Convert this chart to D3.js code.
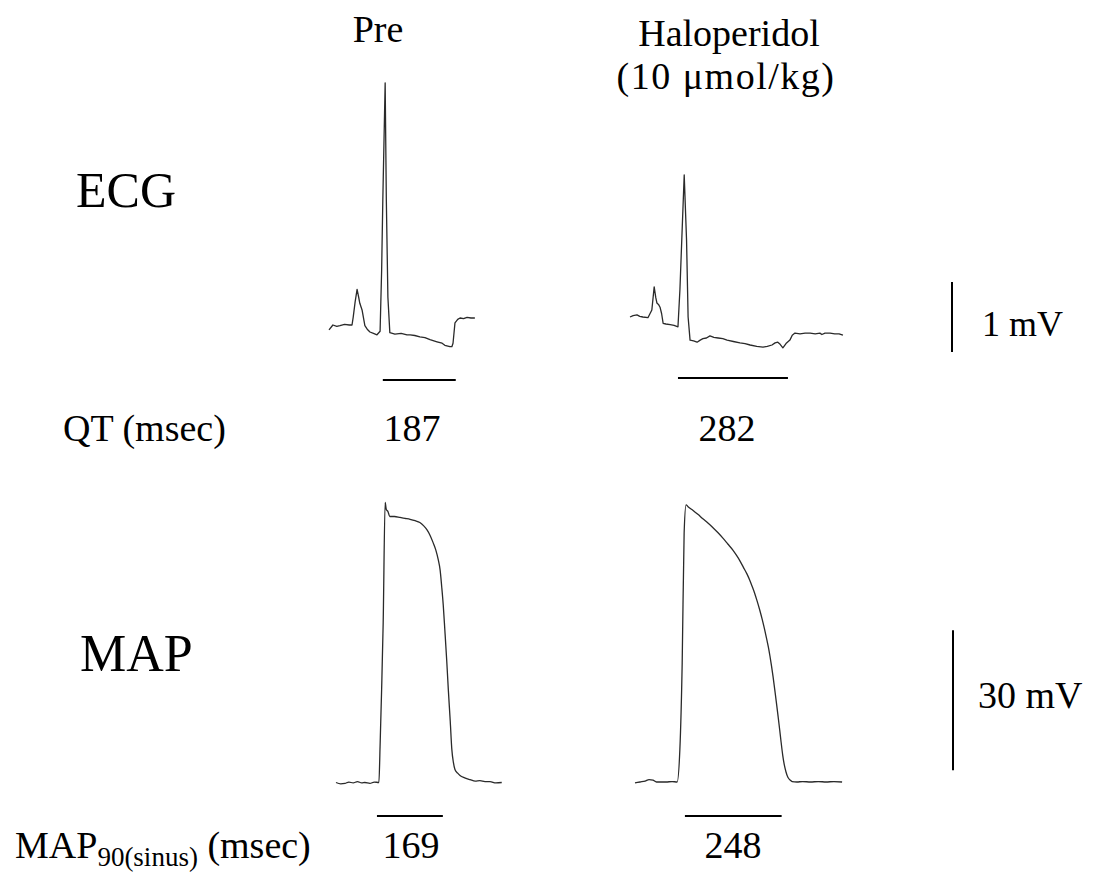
<!DOCTYPE html>
<html>
<head>
<meta charset="utf-8">
<script src="https://cdn.jsdelivr.net/npm/d3@7"></script>
<style>
  html, body { margin: 0; padding: 0; background: #fff; }
  svg { display: block; }
  text { font-family: "Liberation Serif", "Times New Roman", serif; fill: #000; }
</style>
</head>
<body>
<svg id="chart" width="1095" height="881"></svg>
<script>
// ---------------- DATA ----------------
// time in ms from start of trace, amplitude in mV
const ecgPreT = [0,10,20,28,40,52,59,62,67,72,76,79,85,92,98,105,114,123,131,135,138,144,147,151,156,169,185,200,208,220,233,246,259,277,290,297,310,315,318,323,330,336,345,354,364,374];
const ecgPreV = [-0.07,0,-0.02,-0.01,0.01,0,0,0.11,0.33,0.51,0.40,0.31,0.21,-0.01,-0.06,-0.10,-0.12,-0.14,-0.09,0.79,1.79,3.46,1.79,0.40,-0.11,-0.13,-0.12,-0.14,-0.14,-0.15,-0.17,-0.18,-0.21,-0.24,-0.26,-0.29,-0.31,-0.31,-0.26,0.03,0.08,0.10,0.09,0.11,0.10,0.10];

const ecgHaloT = [0,8,18,25,33,46,56,62,66,69,73,77,81,85,92,103,113,123,128,133,139,145,149,154,163,172,180,187,196,205,215,226,238,249,265,282,295,308,325,341,352,364,372,379,385,392,400,410,416,423,436,449,462,475,487,492,500,513,525,536,546];
const ecgHaloV = [0,0.02,0.03,0.01,0,-0.01,0.10,0.43,0.28,0.20,0.18,0.14,0.05,-0.09,-0.10,-0.11,-0.12,-0.14,0.39,1.14,2.03,1.10,0,-0.33,-0.34,-0.36,-0.33,-0.31,-0.30,-0.27,-0.29,-0.30,-0.31,-0.33,-0.35,-0.37,-0.38,-0.40,-0.42,-0.43,-0.42,-0.40,-0.37,-0.36,-0.39,-0.44,-0.38,-0.33,-0.26,-0.23,-0.24,-0.23,-0.23,-0.24,-0.23,-0.25,-0.23,-0.23,-0.24,-0.24,-0.26];

const mapPreT = [0,12,23,33,44,55,66,74,87,98,110,113,117,121,126,129,133,138,150,164,177,190,203,215,225,233,241,249,256,262,267,271,275,279,284,288,293,297,301,305,312,318,330,344,357,369,382,395,410,425];
const mapPreV = [0,-0.3,-0.2,0.1,-0.1,0.2,-0.1,0,-0.2,0.1,0,7.7,20,34.3,60.0,58.5,58.1,57.0,57.0,56.8,56.6,56.4,56.1,55.7,55.0,54.2,53.0,51.4,49.8,47.8,45.5,42.0,38.0,32.8,26.0,19.9,13.0,7.1,4.3,2.8,2.0,1.5,1.0,0.6,0.3,0.4,0.2,0.2,-0.1,0];

const mapHaloT = [0,13,26,36,46,55,64,80,95,108,115,121,126,131,136,149,162,174,187,200,213,226,238,251,260,269,278,287,294,300,307,313,320,326,332,338,342,346,350,354,358,362,367,371,374,379,383,387,392,398,403,415,430,450,470,490,510,531];
const mapHaloV = [-0.2,0,0.2,0.5,0.4,0,0,0,0.1,0,6.9,25.5,53.4,59.4,59.0,58.2,57.3,56.4,55.5,54.5,53.4,52.2,51.0,49.7,48.6,47.4,46.0,44.6,43.3,42.0,40.4,38.8,36.8,34.9,32.8,30.5,28.9,27.0,24.9,22.6,20.0,17.4,14.0,11.2,9.0,5.6,3.6,2.2,1.0,0.4,0.1,0,0.1,0,0.1,0,0.1,0];

const columnLabels = ["Pre", "Haloperidol", "(10 \u03bcmol/kg)"];
const rowLabels = ["ECG", "MAP"];
const qtValues = [187, 282];          // ms
const qtOnsets = [138, 123];          // ms, Q onset within trace
const mapValues = [169, 248];         // ms
const mapOnsets = [105, 128];         // ms, upstroke within trace
const ecgScaleBar = [-0.5, 0.5];      // mV (1 mV)
const mapScaleBar = [2.5, 32.5];      // mV (30 mV)
const scaleBarLabels = ["1 mV", "30 mV"];

// ---------------- LAYOUT ----------------
const svg = d3.select("#chart");
const PX_PER_MS = 0.39;
const ECG_PX_PER_MV = 70;
const MAP_PX_PER_MV = 140 / 30;
const FS = 38;

function timeScale(x0, domainMax) {
  return d3.scaleLinear().domain([0, domainMax]).range([x0, x0 + domainMax * PX_PER_MS]);
}
function ampScale(base, pxPerUnit) {
  return d3.scaleLinear().domain([0, 1]).range([base, base - pxPerUnit]);
}

const panels = [
  { t: ecgPreT,  v: ecgPreV,  x: timeScale(329, 600), y: ampScale(325, ECG_PX_PER_MV) },
  { t: ecgHaloT, v: ecgHaloV, x: timeScale(630, 600), y: ampScale(317, ECG_PX_PER_MV) },
  { t: mapPreT,  v: mapPreV,  x: timeScale(336, 600), y: ampScale(782.5, MAP_PX_PER_MV) },
  { t: mapHaloT, v: mapHaloV, x: timeScale(635, 600), y: ampScale(782, MAP_PX_PER_MV) }
];

panels.forEach((p, i) => {
  const pts = p.t.map((t, k) => [t, p.v[k]]);
  const line = d3.line()
    .x(d => p.x(d[0]))
    .y(d => p.y(d[1]))
    .curve(i >= 2 ? d3.curveMonotoneX : d3.curveLinear);
  svg.append("path")
    .attr("d", line(pts))
    .attr("fill", "none")
    .attr("stroke", "#2a2a2a")
    .attr("stroke-width", 1.3)
    .attr("stroke-linejoin", "round");
});

// duration bars
const barDefs = [
  { p: panels[0], on: qtOnsets[0], len: qtValues[0], y: 380 },
  { p: panels[1], on: qtOnsets[1], len: qtValues[1], y: 378 },
  { p: panels[2], on: mapOnsets[0], len: mapValues[0], y: 816 },
  { p: panels[3], on: mapOnsets[1], len: mapValues[1], y: 816 }
];
barDefs.forEach(b => {
  svg.append("line")
    .attr("x1", b.p.x(b.on)).attr("x2", b.p.x(b.on + b.len))
    .attr("y1", b.y).attr("y2", b.y)
    .attr("stroke", "#000").attr("stroke-width", 2);
});

// vertical scale bars
svg.append("line")
  .attr("x1", 952).attr("x2", 952)
  .attr("y1", panels[1].y(ecgScaleBar[0])).attr("y2", panels[1].y(ecgScaleBar[1]))
  .attr("stroke", "#000").attr("stroke-width", 2);
svg.append("line")
  .attr("x1", 953).attr("x2", 953)
  .attr("y1", panels[3].y(mapScaleBar[0])).attr("y2", panels[3].y(mapScaleBar[1]))
  .attr("stroke", "#000").attr("stroke-width", 2);

svg.append("text").attr("x", 982).attr("y", 336).attr("font-size", 36).text(scaleBarLabels[0]);
svg.append("text").attr("x", 978).attr("y", 708).attr("font-size", FS).text(scaleBarLabels[1]);

// column labels
svg.append("text").attr("x", 378).attr("y", 42).attr("font-size", FS).attr("text-anchor", "middle").text(columnLabels[0]);
svg.append("text").attr("x", 729).attr("y", 46).attr("font-size", FS).attr("text-anchor", "middle").text(columnLabels[1]);
svg.append("text").attr("x", 726).attr("y", 89).attr("font-size", FS).attr("letter-spacing", 1.5)
  .attr("text-anchor", "middle").text(columnLabels[2]);

// row labels
svg.append("text").attr("x", 76).attr("y", 207).attr("font-size", 50).text(rowLabels[0]);
svg.append("text").attr("x", 80).attr("y", 671).attr("font-size", 52).text(rowLabels[1]);

// QT label and values
svg.append("text").attr("x", 63).attr("y", 441).attr("font-size", FS).text("QT (msec)");
svg.append("text").attr("x", 412).attr("y", 441).attr("font-size", FS).attr("text-anchor", "middle").text(qtValues[0]);
svg.append("text").attr("x", 727).attr("y", 441).attr("font-size", FS).attr("text-anchor", "middle").text(qtValues[1]);

// MAP90 label and values
const mt = svg.append("text").attr("x", 15).attr("y", 858).attr("font-size", FS);
mt.append("tspan").text("MAP");
mt.append("tspan").attr("font-size", 27).attr("dy", 8).text("90(sinus)");
mt.append("tspan").attr("dy", -8).text(" (msec)");
svg.append("text").attr("x", 411).attr("y", 858).attr("font-size", FS).attr("text-anchor", "middle").text(mapValues[0]);
svg.append("text").attr("x", 733).attr("y", 858).attr("font-size", FS).attr("text-anchor", "middle").text(mapValues[1]);
</script>
</body>
</html>
